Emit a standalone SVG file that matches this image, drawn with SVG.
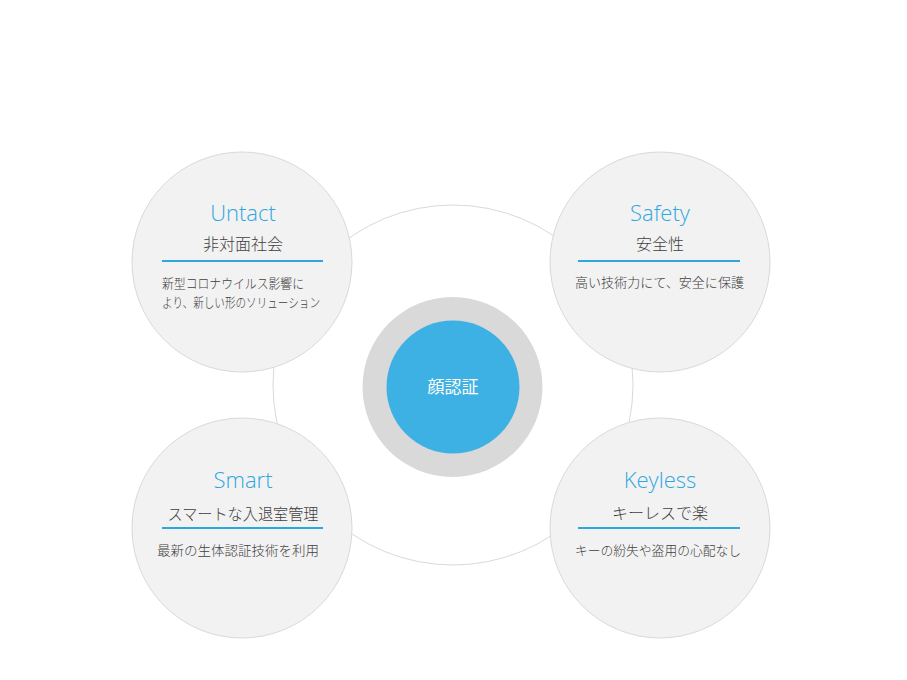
<svg xmlns="http://www.w3.org/2000/svg" width="907" height="680" viewBox="0 0 907 680">
<style>
.bub{fill:#f2f2f2;stroke:#d9d9d9;stroke-width:1}
.ttl{font-family:"Open Sans","Noto Sans","Noto Sans CJK JP",sans-serif;font-size:22px;fill:#2ea7e0;text-anchor:middle;font-weight:300}
.sub{font-family:"Noto Sans CJK JP",sans-serif;font-size:16px;fill:#404040;text-anchor:middle;font-weight:300}
.body{font-family:"Noto Sans CJK JP",sans-serif;font-size:13px;fill:#404040;font-weight:300}
.rule{stroke:#2ea7e0;stroke-width:2}
</style>
<rect width="907" height="680" fill="#ffffff"/>
<g id="connectors">
<circle cx="453" cy="385" r="180" fill="none" stroke="#d9d9d9" stroke-width="1"/>
</g>
<g id="center">
<circle cx="452.5" cy="387" r="90" fill="#d9d9d9"/>
<circle cx="453" cy="387" r="66.5" fill="#3db1e3"/>
<text x="453" y="393" font-family="Noto Sans CJK JP,sans-serif" font-size="17" fill="#ffffff" text-anchor="middle">顔認証</text>
</g>
<g id="untact">
<circle class="bub" cx="242" cy="262" r="110"/>
<text class="ttl" x="243" y="221">Untact</text>
<text class="sub" x="243" y="250">非対面社会</text>
<line class="rule" x1="162" y1="261" x2="323" y2="261"/>
<text class="body" x="162" y="288" font-size="12.5" textLength="142" lengthAdjust="spacingAndGlyphs">新型コロナウイルス影響に</text>
<text class="body" x="162" y="307" font-size="12.5" textLength="158" lengthAdjust="spacingAndGlyphs">より、新しい形のソリューション</text>
</g>
<g id="safety">
<circle class="bub" cx="660" cy="262" r="110"/>
<text class="ttl" x="660" y="221">Safety</text>
<text class="sub" x="660" y="250">安全性</text>
<line class="rule" x1="578" y1="261" x2="740" y2="261"/>
<text class="body" x="575" y="287" textLength="169" lengthAdjust="spacingAndGlyphs">高い技術力にて、安全に保護</text>
</g>
<g id="smart">
<circle class="bub" cx="242" cy="528" r="110"/>
<text class="ttl" x="243" y="488">Smart</text>
<text class="sub" x="243" y="520" textLength="151" lengthAdjust="spacingAndGlyphs">スマートな入退室管理</text>
<line class="rule" x1="162" y1="528" x2="323" y2="528"/>
<text class="body" x="157" y="555" textLength="162" lengthAdjust="spacingAndGlyphs">最新の生体認証技術を利用</text>
</g>
<g id="keyless">
<circle class="bub" cx="660" cy="528" r="110"/>
<text class="ttl" x="660" y="488">Keyless</text>
<text class="sub" x="660" y="519">キーレスで楽</text>
<line class="rule" x1="578" y1="528" x2="740" y2="528"/>
<text class="body" x="575" y="555" textLength="166" lengthAdjust="spacingAndGlyphs">キーの紛失や盗用の心配なし</text>
</g>
</svg>
